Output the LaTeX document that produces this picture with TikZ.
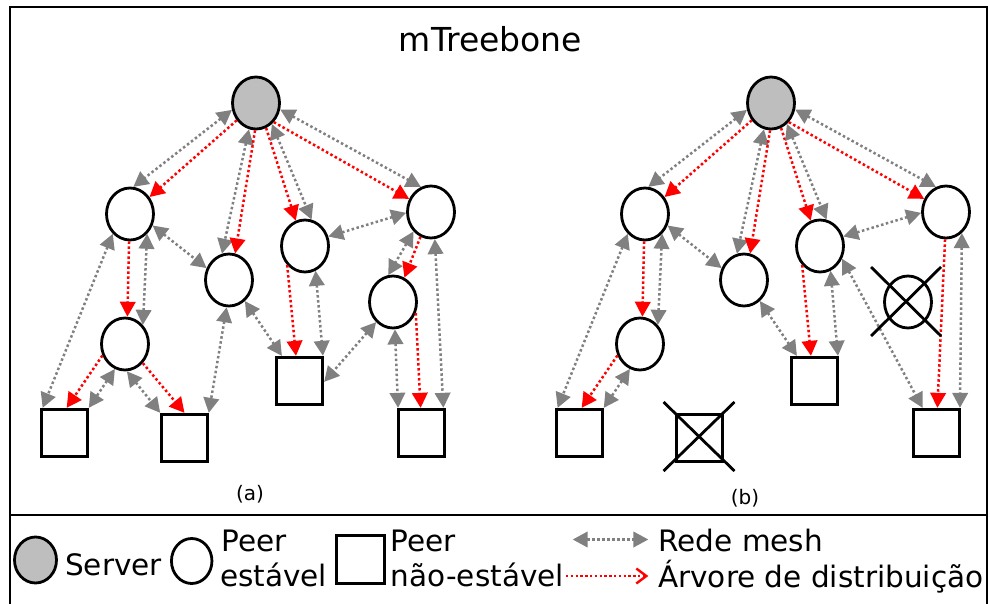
\documentclass[tikz,border=0pt]{standalone}
\usepackage{fontspec}
\setmainfont{DejaVu Sans}
\usetikzlibrary{arrows.meta,shapes.geometric}
\definecolor{meshgray}{RGB}{128,128,128}
\definecolor{srvfill}{RGB}{190,190,190}
\tikzset{
  peer/.style={ellipse, draw=black, line width=2.8pt, minimum width=47pt, minimum height=52pt, inner sep=0pt, fill=white},
  srv/.style={peer, fill=srvfill},
  leaf/.style={rectangle, draw=black, line width=2.8pt, minimum width=46.5pt, minimum height=47.5pt, inner sep=0pt, fill=white},
  mesh/.style={draw=meshgray, line width=2.5pt, dash pattern=on 2.5pt off 2.5pt,
    {Triangle[length=15pt,width=15.5pt]}-{Triangle[length=15pt,width=15.5pt]}},
  tree/.style={draw=red, line width=2.5pt, dash pattern=on 2.5pt off 2.5pt,
    -{Triangle[length=15pt,width=15.5pt]}},
  treelg/.style={draw=red, line width=2.4pt, dash pattern=on 2.4pt off 2.4pt,
    -{Straight Barb[length=10pt,width=15pt,line width=2.4pt]}},
  frame/.style={draw=black, line width=2.6pt},
  crossline/.style={draw=black, line width=2.8pt},
  lgtext/.style={anchor=base west, inner sep=0pt, font=\fontsize{29.5}{33}\selectfont},
  sublabel/.style={anchor=base, inner sep=0pt, font=\fontsize{20}{24}\selectfont},
}
\newcommand\mtnodes{%
  \node[srv]  (srv) at (256,103) {};
  \node[peer] (p1) at (130,214) {};
  \node[peer] (p2) at (229,280) {};
  \node[peer] (p3) at (305,246) {};
  \node[peer] (p4) at (431,212) {};
  \node[peer] (p5) at (393,302) {};
  \node[peer] (p6) at (125,344) {};
  \node[leaf] (s1) at (64.5,433) {};
  \node[leaf] (s2) at (184.5,438) {};
  \node[leaf] (s3) at (299.5,381) {};
  \node[leaf] (s4) at (421.5,433) {};
}
\newcommand\mtedges{%
  \draw[mesh] (srv.196) -- (p1.83);
  \draw[tree] (srv.222) -- (p1.41);
  \draw[mesh] (srv.255) -- (p2.105);
  \draw[tree] (srv.268) -- (p2.77);
  \draw[tree] (srv.292) -- (p3.110);
  \draw[mesh] (srv.307) -- (p3.76);
  \draw[mesh] (srv.345) -- (p4.112);
  \draw[tree] (srv.313) -- (p4.149);
  \draw[mesh] (p1.333) -- (p2.152);
  \draw[mesh] (p1.229) -- (s1.131);
  \draw[tree] (p1.268) -- (p6.85);
  \draw[mesh] (p1.311) -- (p6.47);
  \draw[tree] (p6.207) -- (s1.85);
  \draw[mesh] (p6.248) -- (s1.46);
  \draw[mesh] (p2.307) -- (s3.125);
  \draw[tree] (p3.227) -- (s3.98);
  \draw[mesh] (p3.293) -- (s3.47);
  \draw[mesh] (p3.22) -- (p4.182);
}
\begin{document}
\begin{tikzpicture}[x=1pt,y=-1pt]
\useasboundingbox (0,0) rectangle (990,604);
% frame
\draw[frame] (10,610) -- (10,7) -- (987,7) -- (987,610);
\draw[frame] (10,515) -- (987,515);
\node[anchor=base, inner sep=0pt, font=\fontsize{33}{40}\selectfont] (title) at (490.5,52) {mTreebone};
% panel (a)
\begin{scope}[name prefix=a-]
  \mtnodes
  \mtedges
  \draw[mesh] (p6.274) -- (s2.134);
  \draw[tree] (p6.313) -- (s2.90);
  \draw[mesh] (p2.265) -- (s2.46);
  \draw[mesh] (p4.228) -- (p5.100);
  \draw[tree] (p4.247) -- (p5.65);
  \draw[mesh] (p4.278) -- (s4.49);
  \draw[mesh] (p5.230) -- (s3.358);
  \draw[mesh] (p5.274) -- (s4.133);
  \draw[tree] (p5.334) -- (s4.92);
  \node[sublabel] (lab) at (250,500) {(a)};
\end{scope}
% panel (b)
\begin{scope}[xshift=515pt, name prefix=b-]
  \mtnodes
  \mtedges
  \draw[mesh] (p3.330) -- (s4.119);
  \draw[tree] (p4.268) -- (s4.88);
  \draw[mesh] (p4.307) -- (s4.47);
  \draw[crossline] ([shift={(-37,-35)}]p5.center) -- ([shift={(33,34)}]p5.center);
  \draw[crossline] ([shift={(33,-35)}]p5.center) -- ([shift={(-37,34)}]p5.center);
  \draw[crossline] ([shift={(-36,-36)}]s2.center) -- ([shift={(35,33)}]s2.center);
  \draw[crossline] ([shift={(35,-36)}]s2.center) -- ([shift={(-36,33)}]s2.center);
  \node[sublabel] (lab) at (230,504) {(b)};
\end{scope}
% legend
\node[srv, minimum width=42pt, minimum height=46pt] (lsrv) at (35.5,560) {};
\node[lgtext] (lsrvt) at (65,575) {Server};
\node[peer, minimum width=40.5pt, minimum height=45pt] (lpeer) at (191.7,561) {};
\node[lgtext] (lpeer1) at (221.7,551) {Peer};
\node[lgtext] (lpeer2) at (220,586) {estável};
\node[leaf, minimum width=48pt, minimum height=48pt] (lleaf) at (360.5,559.7) {};
\node[lgtext] (lleaf1) at (390.7,551) {Peer};
\node[lgtext] (lleaf2) at (390.7,586) {não-estável};
\coordinate (lm1) at (572.7,539.5);
\coordinate (lm2) at (648.3,539.5);
\draw[mesh] (lm1) -- (lm2);
\coordinate (lt1) at (566,576);
\coordinate (lt2) at (648.3,576);
\draw[treelg] (lt1) -- (lt2);
\node[lgtext] (lmesh) at (658.3,551) {Rede mesh};
\node[lgtext] (ltree) at (658,587) {Árvore de distribuição};
\end{tikzpicture}
\end{document}
